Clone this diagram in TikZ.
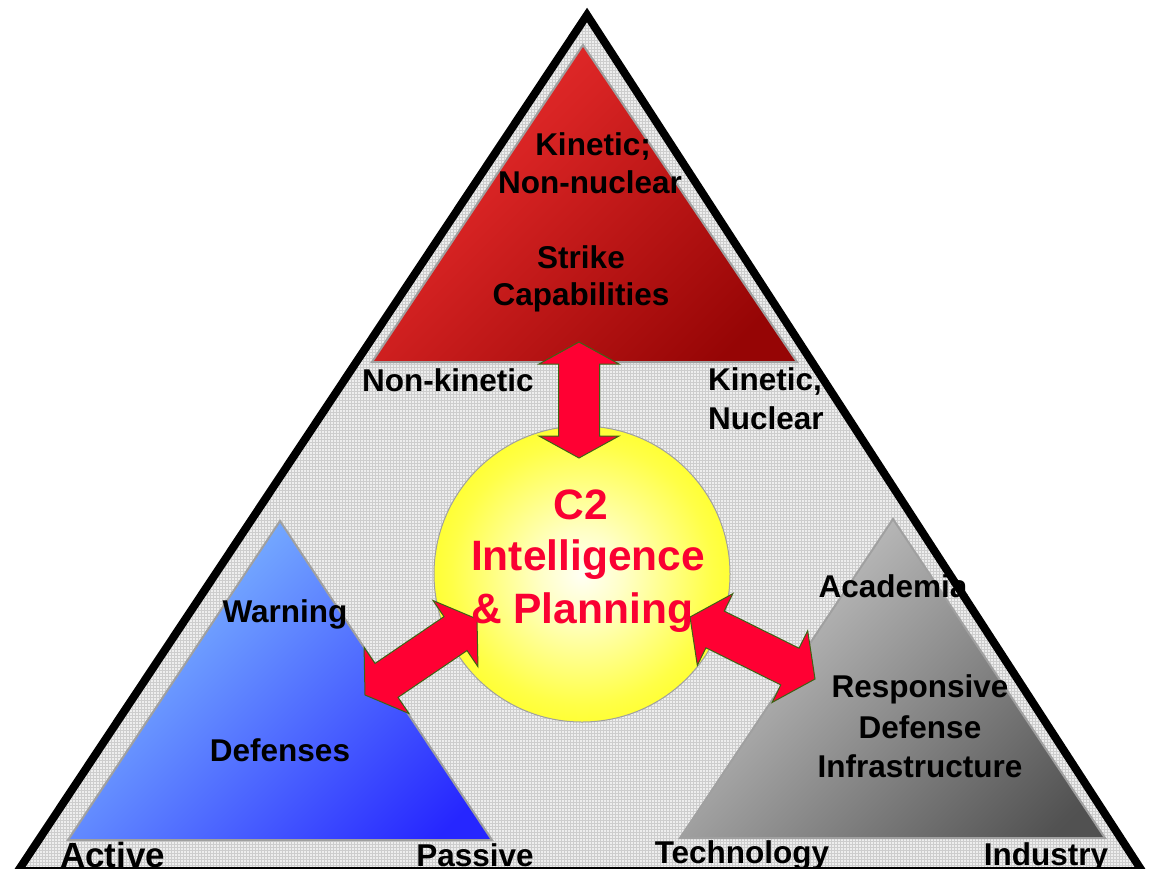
\documentclass[tikz,border=0pt]{standalone}
\usepackage{fontspec}
\setmainfont{Liberation Sans}
\usetikzlibrary{calc,patterns}

\definecolor{gridbg}{RGB}{238,238,238}
\definecolor{gridline}{RGB}{205,205,205}
\definecolor{arrowred}{RGB}{255,0,51}
\definecolor{arrowedge}{RGB}{60,100,20}
\definecolor{coretext}{RGB}{250,0,50}
\definecolor{edgegray}{RGB}{160,160,160}
\definecolor{redlight}{RGB}{242,52,52}
\definecolor{redmid}{RGB}{215,35,35}
\definecolor{reddark}{RGB}{150,5,5}

% fine cross-hatch used inside the outer triangle
\pgfdeclarepatternformonly{finegrid}{\pgfpoint{-0.1pt}{-0.1pt}}{\pgfpoint{3.1pt}{3.1pt}}{\pgfpoint{3pt}{3pt}}{%
  \pgfsetlinewidth{0.45pt}%
  \pgfpathmoveto{\pgfpoint{0pt}{0pt}}\pgfpathlineto{\pgfpoint{3pt}{0pt}}%
  \pgfpathmoveto{\pgfpoint{0pt}{0pt}}\pgfpathlineto{\pgfpoint{0pt}{3pt}}%
  \pgfusepath{stroke}}

% diagonal fades for the three corner triangles (bottom colour first)
\pgfdeclareverticalshading{redfade}{100bp}{color(0bp)=(reddark); color(22bp)=(reddark); color(60bp)=(redmid); color(82bp)=(redlight); color(100bp)=(redlight)}
\pgfdeclareverticalshading{bluefade}{100bp}{color(0bp)=(blue!85!white); color(20bp)=(blue!85!white); color(80bp)=(blue!40!cyan!45!white); color(100bp)=(blue!40!cyan!45!white)}
\pgfdeclareverticalshading{grayfade}{100bp}{color(0bp)=(black!70); color(20bp)=(black!68); color(80bp)=(black!16); color(100bp)=(black!14)}
% pale centre for the core disc
\pgfdeclareradialshading{corefill}{\pgfpoint{0bp}{0bp}}{color(0bp)=(yellow!4!white); color(7bp)=(yellow!22!white); color(22bp)=(yellow!72!white); color(34bp)=(yellow); color(50bp)=(yellow)}

\tikzset{
  txt/.style={font=\bfseries\fontsize{31.5}{37}\selectfont, inner sep=0pt, anchor=base},
  txtw/.style={txt, anchor=base west},
  coretxt/.style={font=\bfseries\fontsize{42.5}{50}\selectfont, inner sep=0pt, anchor=base, text=coretext},
  corner/.style={draw=edgegray, line width=2pt, line join=miter},
  bigarrow/.style={fill=arrowred, draw=arrowedge, line width=1pt, line join=miter}
}

% double-headed block arrow between two tip coordinates: #3 = head length
\newcommand\twoway[3]{%
  \coordinate (#1-h) at ($(#1)!#3!(#2)$);
  \coordinate (#2-h) at ($(#2)!#3!(#1)$);
  \draw[bigarrow] (#1) -- ($(#1-h)!40pt!90:(#2)$) -- ($(#1-h)!20.5pt!90:(#2)$)
    -- ($(#2-h)!20.5pt!-90:(#1)$) -- ($(#2-h)!40pt!-90:(#1)$) -- (#2)
    -- ($(#2-h)!40pt!90:(#1)$) -- ($(#2-h)!20.5pt!90:(#1)$)
    -- ($(#1-h)!20.5pt!-90:(#2)$) -- ($(#1-h)!40pt!-90:(#2)$) -- cycle;}

\begin{document}
\begin{tikzpicture}[x=1pt,y=-1pt]
\useasboundingbox (0,0) rectangle (1150,868);
\fill[white] (0,0) rectangle (1150,868);

% outer triangle
\coordinate (apex) at (587,15);
\coordinate (bl) at (18,871);
\coordinate (br) at (1142,871);
\fill[gridbg] (apex) -- (bl) -- (br) -- cycle;
\fill[pattern=finegrid, pattern color=gridline] (apex) -- (bl) -- (br) -- cycle;
\draw[line width=8pt, line join=miter] (apex) -- (bl) -- (br) -- cycle;

% strike triangle
\coordinate (rt) at (583,45);
\coordinate (rl) at (372,362);
\coordinate (rr) at (797,362);
\shade[shading=redfade, shading angle=45] (rt) -- (rl) -- (rr) -- cycle;
\draw[corner] (rt) -- (rl) -- (rr) -- cycle;

% defenses triangle
\coordinate (bt) at (280,521);
\coordinate (bbl) at (68,840);
\coordinate (bbr) at (492,840);
\shade[shading=bluefade, shading angle=45] (bt) -- (bbl) -- (bbr) -- cycle;
\draw[corner] (bt) -- (bbl) -- (bbr) -- cycle;

% infrastructure triangle
\coordinate (gt) at (893,519);
\coordinate (gbl) at (680,838);
\coordinate (gbr) at (1105,838);
\shade[shading=grayfade, shading angle=45] (gt) -- (gbl) -- (gbr) -- cycle;
\draw[corner] (gt) -- (gbl) -- (gbr) -- cycle;

% core disc
\node[circle, minimum size=296pt, inner sep=0pt, shading=corefill, draw=edgegray, line width=1pt] (core) at (582,574) {};

% block arrows
\coordinate (va) at (579,342);
\coordinate (vb) at (579,458);
\twoway{va}{vb}{22pt}
\coordinate (la) at (365,695);
\coordinate (lb) at (477,619);
\twoway{la}{lb}{26pt}
\coordinate (ra) at (690,617);
\coordinate (rb) at (815,679);
\twoway{ra}{rb}{28pt}

% strike labels
\node[txt] (kin1) at (593,155) {Kinetic;};
\node[txt] (kin2) at (590,193) {Non-nuclear};
\node[txt] (strike1) at (581,268) {Strike};
\node[txt] (strike2) at (581,305) {Capabilities};
\node[txtw] (nonkin) at (362,391) {Non-kinetic};
\node[txtw] (kinnuc1) at (708,390) {Kinetic,};
\node[txtw] (kinnuc2) at (708,429) {Nuclear};

% core labels
\node[coretxt] (c2) at (581,519) {C2};
\node[coretxt] (intel) at (588,570) {Intelligence};
\node[coretxt] (plan) at (582,623) {\& Planning};

% defenses labels
\node[txt] (warn) at (285,622) {Warning};
\node[txt] (def) at (280,761) {Defenses};
\node[txtw, font=\bfseries\fontsize{35}{40}\selectfont] (active) at (60,867) {Active};
\node[txt] (passive) at (475,866) {Passive};

% infrastructure labels
\node[txt] (acad) at (893,597) {Academia};
\node[txt] (resp1) at (920,697) {Responsive};
\node[txt] (resp2) at (920,738) {Defense};
\node[txt] (resp3) at (920,777) {Infrastructure};
\node[txt] (tech) at (742,863) {Technology};
\node[txt] (ind) at (1046,865) {Industry};
\end{tikzpicture}
\end{document}
